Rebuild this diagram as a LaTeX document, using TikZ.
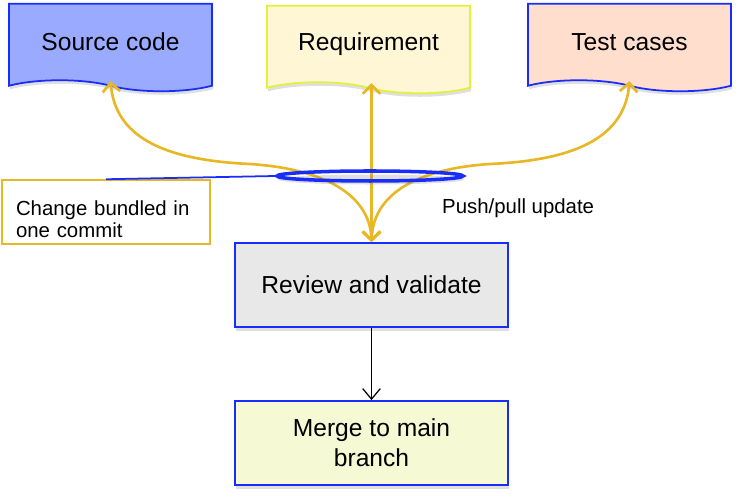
\documentclass[tikz,border=0pt]{standalone}
\usepackage{fontspec}
\setmainfont{Liberation Sans}
\usepackage{xcolor}
\usepackage{tikz}
\usetikzlibrary{arrows.meta, positioning, calc, shapes.symbols, shapes.geometric, shadows}

\definecolor{gold}{RGB}{232,183,38}
\definecolor{edgeblue}{RGB}{25,45,250}
\definecolor{srcfill}{RGB}{153,170,255}
\definecolor{reqfill}{RGB}{255,246,214}
\definecolor{reqedge}{RGB}{225,242,60}
\definecolor{tstfill}{RGB}{255,222,206}
\definecolor{revfill}{RGB}{232,232,232}
\definecolor{mrgfill}{RGB}{246,250,212}

\begin{document}
\begin{tikzpicture}[
  shd/.style={drop shadow={shadow xshift=0.6pt, shadow yshift=-2pt, opacity=0.25}},
  doc/.style={shape=tape, tape bend top=none, tape bend bottom=out and in,
              tape bend height=0.22cm, draw=edgeblue, line width=1pt, shd,
              minimum width=4.06cm, minimum height=1.75cm,
              font=\fontsize{14}{16}\selectfont, inner sep=2pt},
  stage/.style={draw=edgeblue, line width=1pt, shd,
                minimum width=5.46cm, minimum height=1.68cm,
                font=\fontsize{14}{16}\selectfont, align=center},
  note/.style={draw=gold, line width=1pt, fill=white,
               minimum width=4.16cm, minimum height=1.2cm,
               text width=3.6cm, align=left,
               font=\fontsize{11.6}{12.5}\selectfont},
  upd/.style={{Straight Barb[length=5pt, width=10pt]}-{Straight Barb[length=5pt, width=10pt]},
              gold, line width=1.5pt},
]
\useasboundingbox (0,0) rectangle (14.74,-9.94);

% ---- Artefacts --------------------------------------------------------------
\node[doc, fill=srcfill]                 (src) at (2.21,-0.84) {Source code};
\node[doc, fill=reqfill, draw=reqedge]   (req) at (7.37,-0.88) {Requirement};
\node[doc, fill=tstfill]                 (tst) at (12.59,-0.84) {Test cases};

% ---- Pipeline ---------------------------------------------------------------
\node[stage, fill=revfill] (rev) at (7.43,-5.70) {Review and validate};
\node[stage, fill=mrgfill] (mrg) at (7.43,-8.86)
  {Merge to main\\[1.2pt]branch};
\draw[-{Straight Barb[length=6pt, width=10pt]}, line width=0.7pt]
  (rev.south) -- (mrg.north);

% ---- Push/pull updates ------------------------------------------------------
\draw[upd] (src.south) .. controls (2.3,-2.7) and (3.2,-3.2) .. (5.0,-3.28)
  .. controls (6.5,-3.38) and (7.4,-3.9) .. (rev.north);
\draw[upd] (rev.north |- req.south) -- (rev.north);
\draw[upd] (tst.south) .. controls (12.5,-2.7) and (11.6,-3.2) .. (9.8,-3.28)
  .. controls (8.3,-3.38) and (7.46,-3.9) .. (rev.north);
\node[font=\fontsize{11.6}{13}\selectfont, anchor=west] (lbl) at (8.72,-4.16)
  {Push/pull update};

% ---- Commit bundle ----------------------------------------------------------
\node[ellipse, draw=edgeblue, line width=2pt, shd,
      minimum width=3.72cm, minimum height=0.2cm, inner sep=0pt]
  (bnd) at (7.40,-3.52) {};
\node[note] (cmt) at (2.12,-4.24)
  {\rule{0pt}{17pt}Change bundled in\\one commit};
\draw[edgeblue, line width=1pt] (cmt.north) -- (bnd.west);

\end{tikzpicture}
\end{document}
